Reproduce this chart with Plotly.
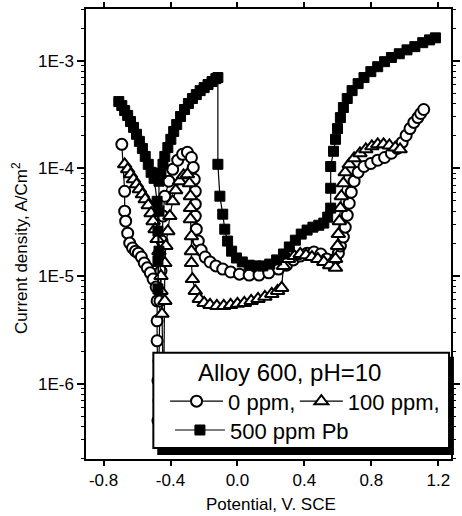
import plotly.graph_objects as go

# ---------------- data ----------------
v_0ppm = [-0.691, -0.674, -0.674, -0.668, -0.656, -0.644,
          -0.627, -0.609, -0.592, -0.574, -0.557, -0.539, -0.521, -0.504, -0.486, -0.480,
          -0.480, -0.480, -0.475, -0.475, -0.469, -0.469, -0.463, -0.457, -0.451, -0.445,
          -0.434, -0.410, -0.387, -0.357, -0.328, -0.299, -0.275, -0.264, -0.258, -0.252,
          -0.252, -0.252, -0.246, -0.234, -0.217, -0.193, -0.164, -0.129, -0.088, -0.041,
          0.012, 0.070, 0.129, 0.187, 0.246, 0.293, 0.334, 0.375, 0.416, 0.457,
          0.498, 0.533, 0.562, 0.586, 0.603, 0.615, 0.633, 0.644, 0.656, 0.668,
          0.680, 0.697, 0.721, 0.756, 0.797, 0.838, 0.879, 0.920, 0.955, 0.984,
          1.008, 1.031, 1.054, 1.078, 1.095, 1.113]
i_0ppm = [1.67e-4, 6.12e-5, 4.00e-5, 3.23e-5, 2.50e-5, 2.02e-5,
          1.82e-5, 1.70e-5, 1.63e-5, 1.50e-5, 1.32e-5, 1.19e-5, 1.07e-5, 9.37e-6, 7.91e-6, 5.87e-6,
          3.83e-6, 2.50e-6, 1.07e-6, 4.54e-7, 6.97e-7, 1.63e-6, 5.87e-6, 1.11e-5, 2.11e-5, 3.60e-5,
          5.51e-5, 7.59e-5, 9.79e-5, 1.19e-4, 1.35e-4, 1.41e-4, 1.26e-4, 1.02e-4, 7.91e-5, 6.12e-5,
          4.65e-5, 3.60e-5, 2.72e-5, 2.11e-5, 1.74e-5, 1.50e-5, 1.35e-5, 1.24e-5, 1.16e-5, 1.09e-5,
          1.04e-5, 1.02e-5, 1.02e-5, 1.07e-5, 1.16e-5, 1.26e-5, 1.41e-5, 1.53e-5, 1.63e-5, 1.67e-5,
          1.60e-5, 1.44e-5, 1.29e-5, 1.44e-5, 1.63e-5, 1.90e-5, 2.30e-5, 2.84e-5, 3.67e-5, 4.74e-5,
          6.00e-5, 7.59e-5, 9.18e-5, 1.04e-4, 1.11e-4, 1.19e-4, 1.26e-4, 1.38e-4, 1.53e-4, 1.74e-4,
          2.02e-4, 2.34e-4, 2.67e-4, 2.96e-4, 3.23e-4, 3.52e-4]

v_100ppm = [-0.674, -0.656, -0.639, -0.621, -0.603, -0.586, -0.568, -0.551, -0.533, -0.516,
            -0.504, -0.492, -0.480, -0.469, -0.463, -0.457, -0.457, -0.451, -0.445, -0.445,
            -0.439, -0.434, -0.434, -0.428, -0.416, -0.404, -0.387, -0.369, -0.346, -0.322,
            -0.299, -0.287, -0.281, -0.281, -0.281, -0.275, -0.275, -0.275, -0.269, -0.252,
            -0.228, -0.199, -0.164, -0.123, -0.082, -0.041, 0.000, 0.041, 0.082, 0.123,
            0.164, 0.205, 0.240, 0.264, 0.275, 0.305, 0.340, 0.375, 0.410, 0.445,
            0.480, 0.516, 0.551, 0.586, 0.586, 0.598, 0.603, 0.609, 0.615, 0.621,
            0.633, 0.644, 0.668, 0.697, 0.732, 0.767, 0.803, 0.838, 0.873, 0.908,
            0.943, 0.972]
i_100ppm = [1.09e-4, 9.79e-5, 8.79e-5, 7.91e-5, 7.11e-5, 6.40e-5, 5.74e-5, 5.16e-5, 4.54e-5, 3.83e-5,
            3.23e-5, 2.72e-5, 2.20e-5, 1.70e-5, 1.32e-5, 1.00e-5, 7.26e-6, 4.45e-6, 1.32e-6, 4.54e-7,
            1.63e-6, 5.87e-6, 1.32e-5, 1.90e-5, 2.61e-5, 3.60e-5, 4.94e-5, 6.25e-5, 7.59e-5, 8.61e-5,
            8.79e-5, 7.26e-5, 5.51e-5, 4.27e-5, 3.37e-5, 2.34e-5, 1.70e-5, 1.32e-5, 9.37e-6, 7.26e-6,
            6.12e-6, 5.62e-6, 5.38e-6, 5.27e-6, 5.27e-6, 5.38e-6, 5.51e-6, 5.62e-6, 5.87e-6, 6.12e-6,
            6.40e-6, 6.81e-6, 7.26e-6, 7.74e-6, 1.24e-5, 1.44e-5, 1.53e-5, 1.60e-5, 1.56e-5, 1.50e-5,
            1.44e-5, 1.35e-5, 1.26e-5, 1.19e-5, 1.44e-5, 1.90e-5, 2.45e-5, 3.23e-5, 4.27e-5, 5.51e-5,
            7.26e-5, 9.18e-5, 1.09e-4, 1.24e-4, 1.38e-4, 1.50e-4, 1.60e-4, 1.67e-4, 1.67e-4, 1.63e-4,
            1.56e-4, 1.50e-4]

v_500ppm = [-0.709, -0.691, -0.674, -0.656, -0.639, -0.621, -0.603, -0.586, -0.568, -0.551,
            -0.533, -0.516, -0.498, -0.480, -0.475, -0.475, -0.475, -0.469, -0.469, -0.469,
            -0.457, -0.445, -0.434, -0.416, -0.398, -0.381, -0.363, -0.340, -0.316, -0.293,
            -0.269, -0.246, -0.223, -0.199, -0.176, -0.152, -0.129, -0.117, -0.117, -0.105,
            -0.088, -0.076, -0.059, -0.035, -0.006, 0.029, 0.070, 0.111, 0.152, 0.193,
            0.234, 0.275, 0.310, 0.346, 0.381, 0.416, 0.451, 0.486, 0.516, 0.539,
            0.557, 0.557, 0.557, 0.574, 0.586, 0.598, 0.615, 0.633, 0.656, 0.685,
            0.721, 0.756, 0.797, 0.838, 0.879, 0.920, 0.967, 1.013, 1.060, 1.107,
            1.148, 1.183]
i_500ppm = [4.17e-4, 3.83e-4, 3.44e-4, 3.10e-4, 2.72e-4, 2.40e-4, 2.07e-4, 1.78e-4, 1.53e-4, 1.29e-4,
            1.09e-4, 9.18e-5, 8.07e-5, 4.94e-5, 2.61e-5, 1.38e-5, 7.59e-6, 1.70e-5, 4.00e-5, 7.59e-5,
            9.00e-5, 1.09e-4, 1.29e-4, 1.56e-4, 1.86e-4, 2.20e-4, 2.55e-4, 3.03e-4, 3.52e-4, 4.00e-4,
            4.45e-4, 4.84e-4, 5.27e-4, 5.62e-4, 6.00e-4, 6.40e-4, 6.81e-4, 6.97e-4, 1.09e-4, 5.51e-5,
            3.75e-5, 2.72e-5, 2.11e-5, 1.70e-5, 1.47e-5, 1.35e-5, 1.26e-5, 1.24e-5, 1.24e-5, 1.29e-5,
            1.41e-5, 1.60e-5, 1.86e-5, 2.15e-5, 2.45e-5, 2.67e-5, 2.84e-5, 2.96e-5, 3.10e-5, 3.52e-5,
            4.27e-5, 6.53e-5, 1.04e-4, 1.44e-4, 1.86e-4, 2.34e-4, 2.96e-4, 3.67e-4, 4.45e-4, 5.27e-4,
            6.12e-4, 6.97e-4, 7.91e-4, 8.79e-4, 9.79e-4, 1.07e-3, 1.16e-3, 1.26e-3, 1.35e-3, 1.47e-3,
            1.56e-3, 1.63e-3]

x_tickvals = [-0.8, -0.4, 0.0, 0.4, 0.8, 1.2]
x_ticktext = ["-0.8", "-0.4", "0.0", "0.4", "0.8", "1.2"]
y_tickvals = [1e-6, 1e-5, 1e-4, 1e-3]
y_ticktext = ["1E-6", "1E-5", "1E-4", "1E-3"]
y_minor = [k * 10.0 ** n for n in range(-7, -2) for k in range(2, 10)]

names = ["0 ppm,", "100 ppm,", "500 ppm Pb"]
legend_title = "Alloy 600, pH=10"

# ---------------- figure ----------------
FONT = "Liberation Sans, Arial, sans-serif"
W, H = 462, 516
ML, MR, MT, MB = 86, 2, 6, 57
PW, PH = W - ML - MR, H - MT - MB


def px(x):
    return (x - ML) / PW


def py(y):
    return 1 - (y - MT) / PH


fig = go.Figure()
fig.add_trace(go.Scatter(
    x=v_0ppm, y=i_0ppm, mode="lines+markers", name=names[0],
    line=dict(color="black", width=1.2),
    marker=dict(symbol="circle", size=11, color="white", line=dict(color="black", width=2)),
    legend="legend"))
fig.add_trace(go.Scatter(
    x=v_100ppm, y=i_100ppm, mode="lines+markers", name=names[1],
    line=dict(color="black", width=1.2),
    marker=dict(symbol="triangle-up", size=12, color="white", line=dict(color="black", width=2)),
    legend="legend2"))
fig.add_trace(go.Scatter(
    x=v_500ppm, y=i_500ppm, mode="lines+markers", name=names[2],
    line=dict(color="black", width=1.2),
    marker=dict(symbol="square", size=10, color="black", line=dict(color="black", width=1)),
    legend="legend3"))

# legend box (drawn above the data) with shadow
fig.add_shape(type="rect", xref="paper", yref="paper",
              x0=px(159), x1=px(463), y0=py(455), y1=py(356),
              fillcolor="black", line=dict(width=0), layer="above")
fig.add_shape(type="rect", xref="paper", yref="paper",
              x0=px(155), x1=px(458), y0=py(448), y1=py(352),
              fillcolor="white", line=dict(color="black", width=2), layer="above")

fig.add_annotation(xref="paper", yref="paper", x=px(199), y=py(372), xanchor="left",
                   yanchor="middle", text=legend_title, showarrow=False,
                   font=dict(family=FONT, size=24, color="black"))

# axis titles
fig.add_annotation(xref="paper", yref="paper", x=px(19), y=py(247), xanchor="center",
                   yanchor="middle", textangle=-90, showarrow=False,
                   text="Current density, A/Cm<sup>2</sup>",
                   font=dict(family=FONT, size=17, color="black"))
fig.add_annotation(xref="paper", yref="paper", x=px(276), y=py(505), xanchor="center",
                   yanchor="middle", showarrow=False, text="Potential, V. SCE",
                   font=dict(family=FONT, size=17, color="black"))

axis_common = dict(showline=True, linecolor="black", linewidth=1.5, mirror="allticks",
                   ticks="outside", tickcolor="black", tickwidth=1.5, showgrid=False,
                   zeroline=False, tickfont=dict(family=FONT, size=17, color="black"))

fig.update_xaxes(range=[-0.905, 1.276], tickmode="array", tickvals=x_tickvals,
                 ticktext=x_ticktext, ticklen=5, **axis_common)
fig.update_yaxes(type="log", range=[-6.70, -2.52], tickmode="array", tickvals=y_tickvals,
                 ticktext=y_ticktext, ticklen=7,
                 minor=dict(tickmode="array", tickvals=y_minor, ticks="outside", ticklen=3,
                            tickcolor="black", tickwidth=1, showgrid=False),
                 **axis_common)

leg_common = dict(orientation="h", xanchor="left", yanchor="middle",
                  bgcolor="rgba(0,0,0,0)", borderwidth=0,
                  font=dict(family=FONT, size=22, color="black"))

fig.update_layout(
    width=W, height=H,
    margin=dict(l=ML, r=MR, t=MT, b=MB),
    paper_bgcolor="white", plot_bgcolor="white",
    font=dict(family=FONT, size=17, color="black"),
    legend=dict(x=px(167), y=py(401), itemwidth=53, **leg_common),
    legend2=dict(x=px(300), y=py(401), itemwidth=43, **leg_common),
    legend3=dict(x=px(172), y=py(430), itemwidth=50, **leg_common),
    showlegend=True,
)

fig.write_html("out.html")
